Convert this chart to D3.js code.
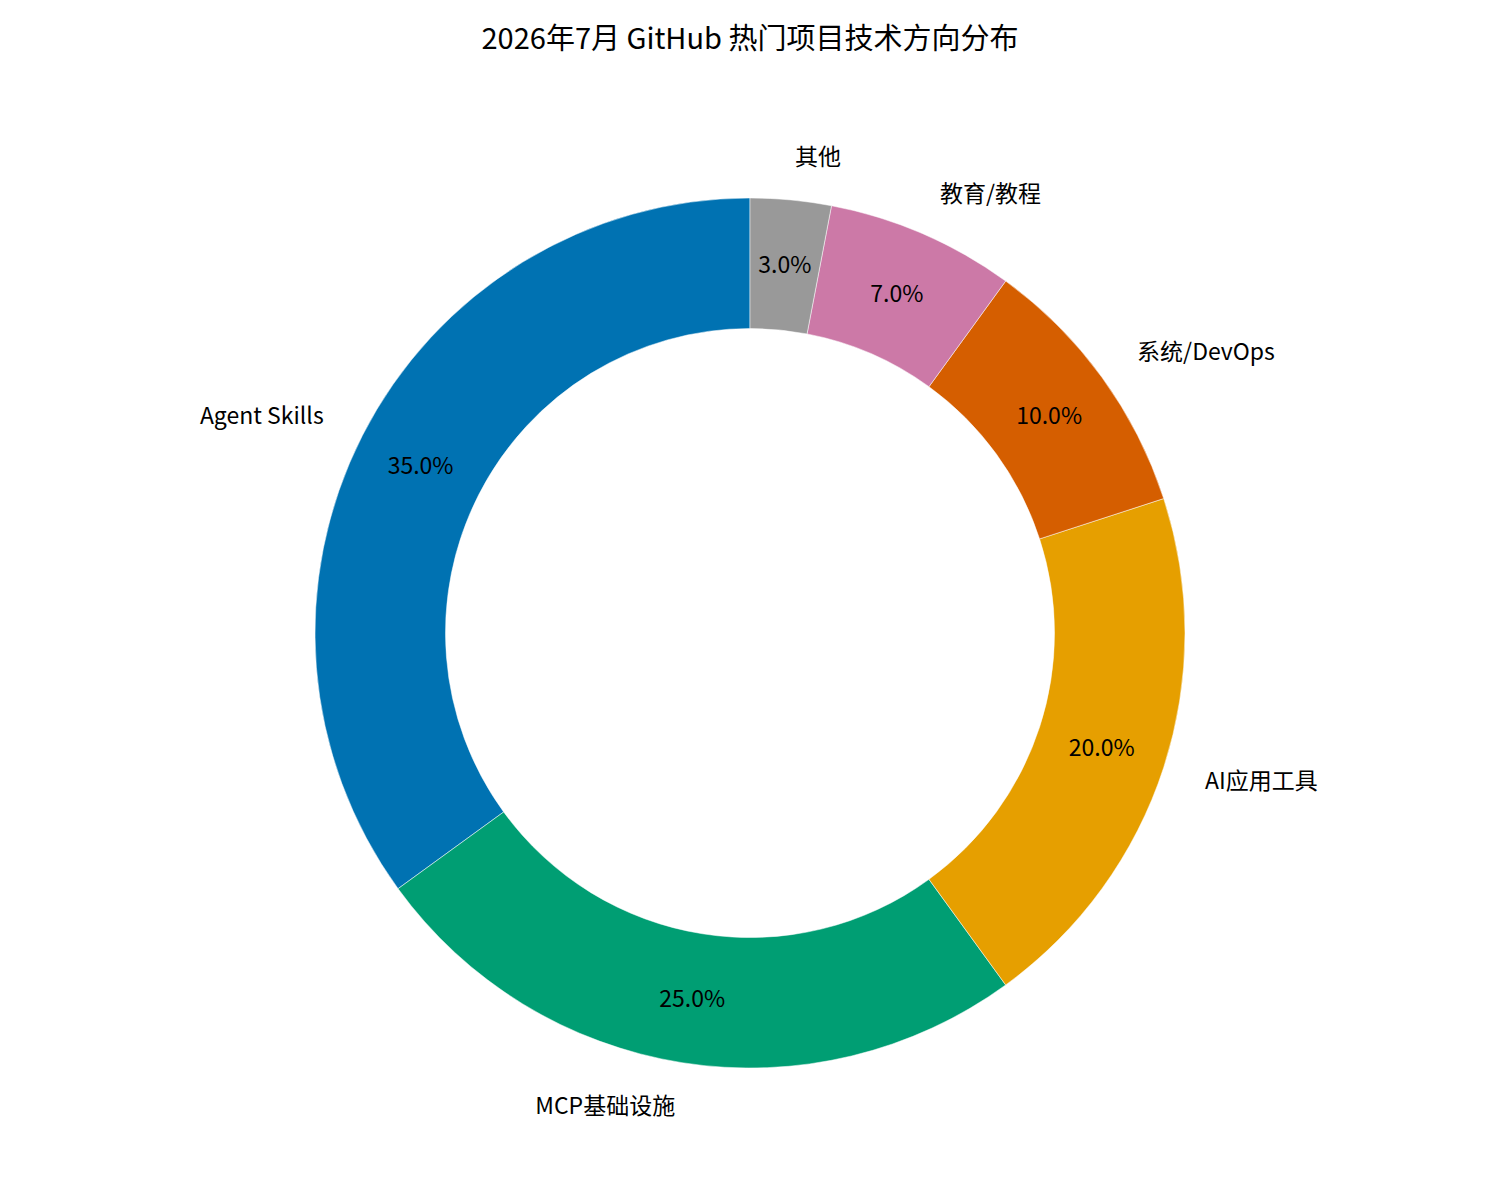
<!DOCTYPE html>
<html>
<head>
<meta charset="utf-8">
<script src="https://cdn.jsdelivr.net/npm/d3@7"></script>
<style>
  body { margin: 0; background: #fff; }
  svg text { font-family: "Noto Sans CJK SC", "Noto Sans", sans-serif; fill: #000; }
</style>
</head>
<body>
<div id="plot"></div>
<script>
// chart data
const categories = ['Agent Skills', 'MCP基础设施', 'AI应用工具', '系统/DevOps', '教育/教程', '其他'];
const shares = [35, 25, 20, 10, 7, 3];
const colors = ['#0072B2', '#009E73', '#E69F00', '#D55E00', '#CC79A7', '#999999'];
const title = '2026年7月 GitHub 热门项目技术方向分布';

const width = 1500;
const height = 1200;
const cx = 750, cy = 633;
const outerR = 435;
const innerR = outerR * 0.7;

const svg = d3.select('#plot')
    .append('svg')
    .attr('width', width)
    .attr('height', height);

svg.append('text')
    .attr('x', width / 2)
    .attr('y', 36)
    .attr('text-anchor', 'middle')
    .attr('dominant-baseline', 'central')
    .attr('font-size', '29px')
    .text(title);

const data = categories.map((c, i) => ({name: c, value: shares[i], color: colors[i]}));

// counter-clockwise from 12 o'clock, like matplotlib startangle=90
const pie = d3.pie()
    .value(d => d.value)
    .sort(null)
    .startAngle(0)
    .endAngle(-2 * Math.PI);

const arcs = pie(data);
const total = d3.sum(shares);

const arc = d3.arc().innerRadius(innerR).outerRadius(outerR);

const g = svg.append('g').attr('transform', `translate(${cx},${cy})`);

g.selectAll('path')
    .data(arcs)
    .enter().append('path')
    .attr('d', arc)
    .attr('fill', d => d.data.color)
    .attr('stroke', '#fff')
    .attr('stroke-width', 0.5);

function pointAt(d, r) {
    const a = (d.startAngle + d.endAngle) / 2;
    return [r * Math.sin(a), -r * Math.cos(a)];
}

// percentage labels
g.selectAll('text.pct')
    .data(arcs)
    .enter().append('text')
    .attr('class', 'pct')
    .attr('x', d => pointAt(d, outerR * 0.85)[0])
    .attr('y', d => pointAt(d, outerR * 0.85)[1] - 1.5)
    .attr('text-anchor', 'middle')
    .attr('dominant-baseline', 'central')
    .attr('font-size', '23px')
    .text(d => (d.data.value / total * 100).toFixed(1) + '%');

// category labels
g.selectAll('text.label')
    .data(arcs)
    .enter().append('text')
    .attr('class', 'label')
    .attr('x', d => pointAt(d, outerR * 1.1)[0])
    .attr('y', d => pointAt(d, outerR * 1.1)[1] - 1.5)
    .attr('text-anchor', d => pointAt(d, 1)[0] < 0 ? 'end' : 'start')
    .attr('dominant-baseline', 'central')
    .attr('font-size', '23px')
    .text(d => d.data.name);
</script>
</body>
</html>
